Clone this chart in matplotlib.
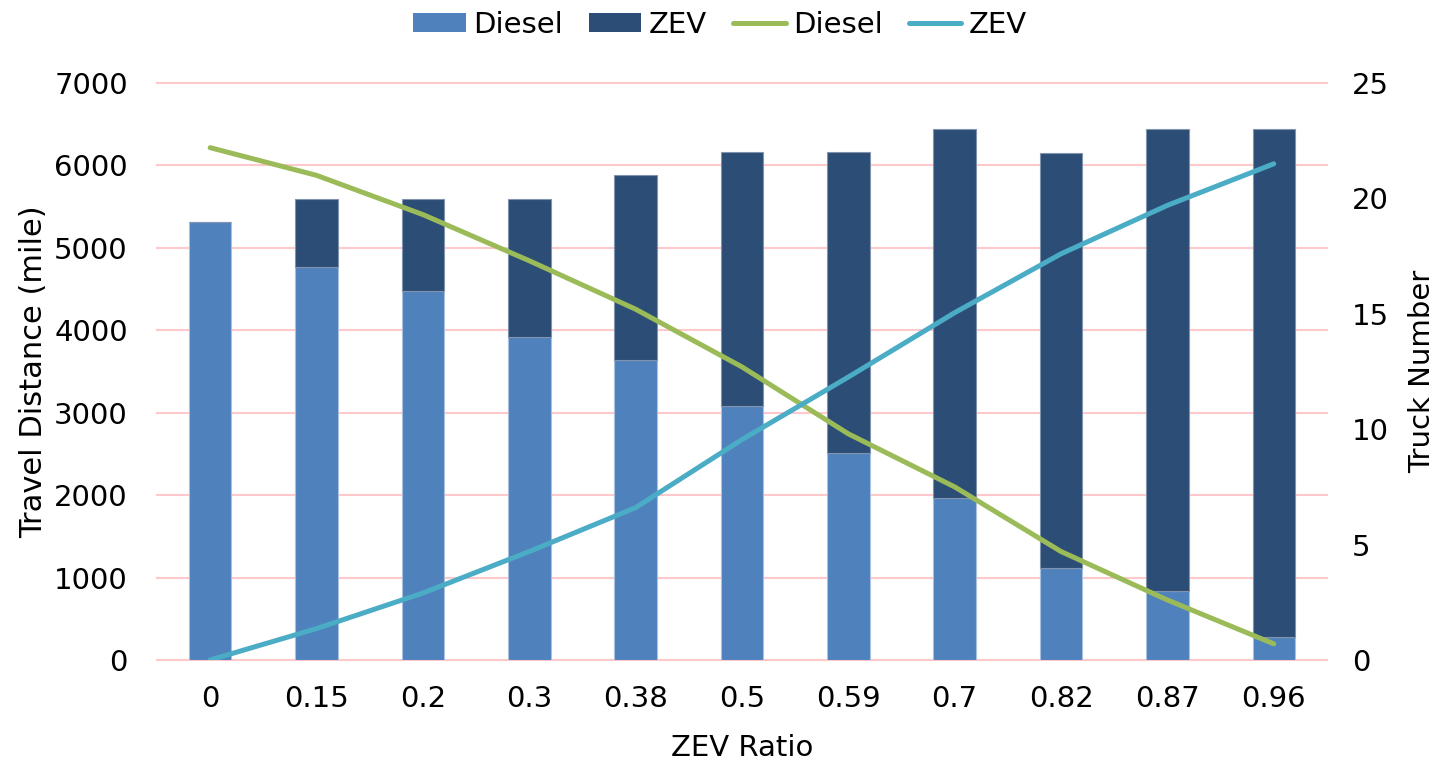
import matplotlib
matplotlib.use("Agg")
import matplotlib.pyplot as plt
from matplotlib.patches import Patch
from matplotlib.lines import Line2D
import numpy as np

# ZEV ratio categories
ratios = ["0", "0.15", "0.2", "0.3", "0.38", "0.5", "0.59", "0.7", "0.82", "0.87", "0.96"]

# Travel distance (mile) by truck type
diesel_dist = [5316, 4762, 4476, 3918, 3636, 3078, 2515, 1960, 1121, 839, 278]
zev_dist = [0, 835, 1121, 1679, 2243, 3082, 3645, 4484, 5036, 5605, 6166]

# Truck numbers by truck type
diesel_trucks = [22.2, 21.0, 19.3, 17.3, 15.2, 12.7, 9.8, 7.5, 4.7, 2.6, 0.7]
zev_trucks = [0.0, 1.36, 2.9, 4.7, 6.6, 9.55, 12.26, 15.05, 17.6, 19.7, 21.5]

C_DIESEL_BAR = "#4F81BD"
C_ZEV_BAR = "#2C4D75"
C_DIESEL_LINE = "#9BBB59"
C_ZEV_LINE = "#4BACC6"
C_GRID = "#FFC9CC"

plt.rcParams["font.family"] = ["DejaVu Sans"]
FS = 21
LW = 3.6

fig = plt.figure(figsize=(14.4, 7.66), dpi=100)
ax = fig.add_axes([0.109, 0.1384, 0.8125, 0.7532])
ax2 = ax.twinx()

x = np.arange(len(ratios))
ax.bar(x, diesel_dist, width=0.4, color=C_DIESEL_BAR, edgecolor="#A9C0DE", linewidth=0.8, zorder=2)
ax.bar(x, zev_dist, width=0.4, bottom=diesel_dist, color=C_ZEV_BAR, edgecolor="#8193AD", linewidth=0.8, zorder=2)

ax2.plot(x, diesel_trucks, color=C_DIESEL_LINE, linewidth=LW, solid_capstyle="round",
         solid_joinstyle="round", zorder=3)
ax2.plot(x, zev_trucks, color=C_ZEV_LINE, linewidth=LW, solid_capstyle="round",
         solid_joinstyle="round", zorder=3)

ax.set_xlim(-0.5, len(ratios) - 0.5)
ax.set_ylim(0, 7000)
ax.set_yticks(np.arange(0, 7001, 1000))
ax2.set_ylim(0, 25)
ax2.set_yticks(np.arange(0, 26, 5))

ax.set_xticks(x)
ax.set_xticklabels(ratios)
ax.yaxis.grid(True, color=C_GRID, linewidth=1.5, zorder=0)
for gl in ax.get_ygridlines():
    gl.set_clip_on(False)
ax.set_axisbelow(True)

for a in (ax, ax2):
    for s in a.spines.values():
        s.set_visible(False)
    a.tick_params(length=0, labelsize=FS)
ax.tick_params(axis="y", pad=21)
ax.tick_params(axis="x", pad=18)
ax2.tick_params(axis="y", pad=18)

ax.set_ylabel("Travel Distance (mile)", fontsize=FS + 1, labelpad=4)
ax2.set_ylabel("Truck Number", fontsize=FS, labelpad=14)
ax.set_xlabel("ZEV Ratio", fontsize=FS, labelpad=15)

ax.set_zorder(ax2.get_zorder() - 1)
ax.patch.set_visible(True)
ax2.patch.set_visible(False)

handles = [
    Patch(facecolor=C_DIESEL_BAR, label="Diesel"),
    Patch(facecolor=C_ZEV_BAR, label="ZEV"),
    Line2D([0], [0], color=C_DIESEL_LINE, linewidth=LW, solid_capstyle="round", label="Diesel"),
    Line2D([0], [0], color=C_ZEV_LINE, linewidth=LW, solid_capstyle="round", label="ZEV"),
]
fig.legend(handles=handles, loc="upper center", bbox_to_anchor=(0.5, 1.02), ncol=4,
           frameon=False, fontsize=FS, handlelength=1.8, handleheight=0.65,
           handletextpad=0.25, columnspacing=0.9)

fig.savefig("out.png", dpi=100)
